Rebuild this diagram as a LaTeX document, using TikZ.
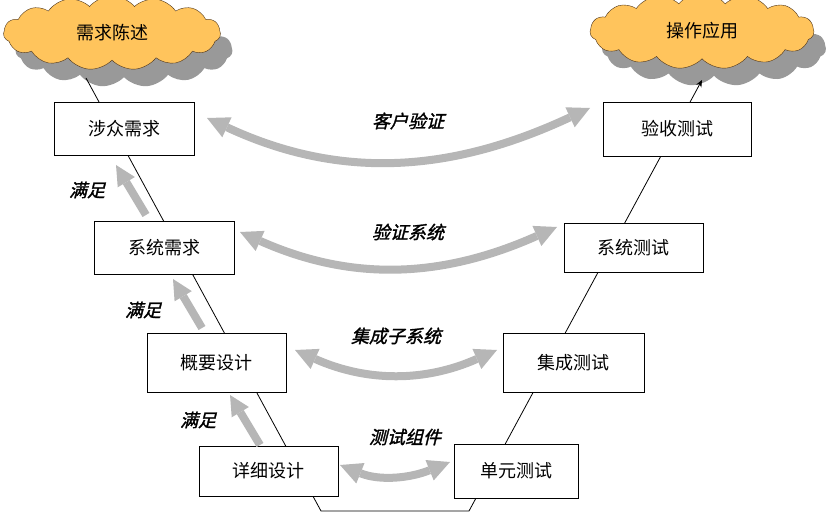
\documentclass[tikz,border=0pt]{standalone}
\usepackage{fontspec}
\setmainfont{Noto Sans CJK SC}
\newfontfamily\tagfamily{Noto Sans CJK SC}[FakeSlant=0.25, FakeBold=1.6]
\usetikzlibrary{shapes.symbols,shadows,arrows.meta}

\definecolor{cloudorange}{RGB}{255,196,92}
\definecolor{shadowgray}{RGB}{153,153,153}
\definecolor{arrowgray}{RGB}{182,182,182}

\tikzstyle{every node}=[font={\fontsize{18}{20}\selectfont}, inner sep=0pt]
\tikzstyle{stage}=[draw=black, fill=white, line width=0.8pt, minimum width=140pt, minimum height=53pt]
\tikzstyle{bubble}=[cloud, cloud puffs=15, cloud puff arc=100, cloud ignores aspect, draw=black!60!brown, fill=cloudorange,
    drop shadow={shadow xshift=12pt, shadow yshift=-17pt, fill=shadowgray, opacity=1}]
\tikzstyle{trace}=[line width=8pt, draw=arrowgray,
    {Triangle[width=22pt,length=22pt,line width=0pt]}-{Triangle[width=22pt,length=22pt,line width=0pt]}]
\tikzstyle{satisfy}=[line width=8pt, draw=arrowgray, -{Triangle[width=20pt,length=20pt,line width=0pt]}]
\tikzstyle{tag}=[font={\tagfamily\fontsize{18}{20}\selectfont}]

\begin{document}
\begin{tikzpicture}[x=1pt, y=-1pt]
    \useasboundingbox (0,0) rectangle (828,513);

    % clouds
    \node [bubble, minimum width=217pt, minimum height=74pt] (needs) at (112,33) {需求陈述};
    \node [bubble, minimum width=224pt, minimum height=76pt] (operate) at (702,31) {操作应用};

    % the V
    \coordinate (vL) at (86,78);
    \coordinate (vBL) at (321,511);
    \coordinate (vBR) at (469,511);
    \coordinate (vR) at (702,80);
    \draw [line width=0.8pt, -{Stealth[length=7pt,width=6pt]}] (vL) -- (vBL) -- (vBR) -- (vR);

    % left side
    \node [stage] (stake) at (124,128.5) {涉众需求};
    \node [stage] (sysreq) at (164,247.5) {系统需求};
    \node [stage, minimum width=139pt, minimum height=59pt] (arch) at (216.5,362.5) {概要设计\hspace{16pt}};
    \node [stage, minimum width=139pt, minimum height=50pt] (detail) at (268.5,471) {详细设计};

    % right side
    \node [stage, minimum width=148pt, minimum height=54pt] (accept) at (677,129) {验收测试};
    \node [stage, minimum width=139pt, minimum height=49pt] (systest) at (633.5,247.5) {系统测试};
    \node [stage, minimum width=141pt, minimum height=59pt] (integ) at (573.5,362.5) {集成测试\hspace{26pt}};
    \node [stage, minimum width=124pt, minimum height=54pt] (unit) at (516,471) {单元测试};

    % verification arrows
    \coordinate (c1a) at (207,118);
    \coordinate (c1b) at (590,108);
    \coordinate (c2a) at (240,232);
    \coordinate (c2b) at (557,227);
    \coordinate (c3a) at (295,350);
    \coordinate (c3b) at (497,350);
    \coordinate (c4a) at (340,465);
    \coordinate (c4b) at (450,462);
    \draw [trace] (c1a) to [out=-25, in=-155] (c1b);
    \draw [trace] (c2a) to [out=-24, in=-156] (c2b);
    \draw [trace] (c3a) to [out=-24, in=-156] (c3b);
    \draw [trace] (c4a) to [out=-22, in=-158] (c4b);
    \node [tag] (t1) at (408,121) {客户验证};
    \node [tag] (t2) at (408,232) {验证系统};
    \node [tag] (t3) at (396,336) {集成子系统};
    \node [tag] (t4) at (405,437) {测试组件};

    % satisfy arrows
    \coordinate (s1a) at (146,215);
    \coordinate (s1b) at (116,165);
    \coordinate (s2a) at (202,328);
    \coordinate (s2b) at (173,279);
    \coordinate (s3a) at (260,445);
    \coordinate (s3b) at (230,395);
    \draw [satisfy] (s1a) -- (s1b);
    \draw [satisfy] (s2a) -- (s2b);
    \draw [satisfy] (s3a) -- (s3b);
    \node [tag] (m1) at (87,190) {满足};
    \node [tag] (m2) at (143,310) {满足};
    \node [tag] (m3) at (198,420) {满足};
\end{tikzpicture}
\end{document}
